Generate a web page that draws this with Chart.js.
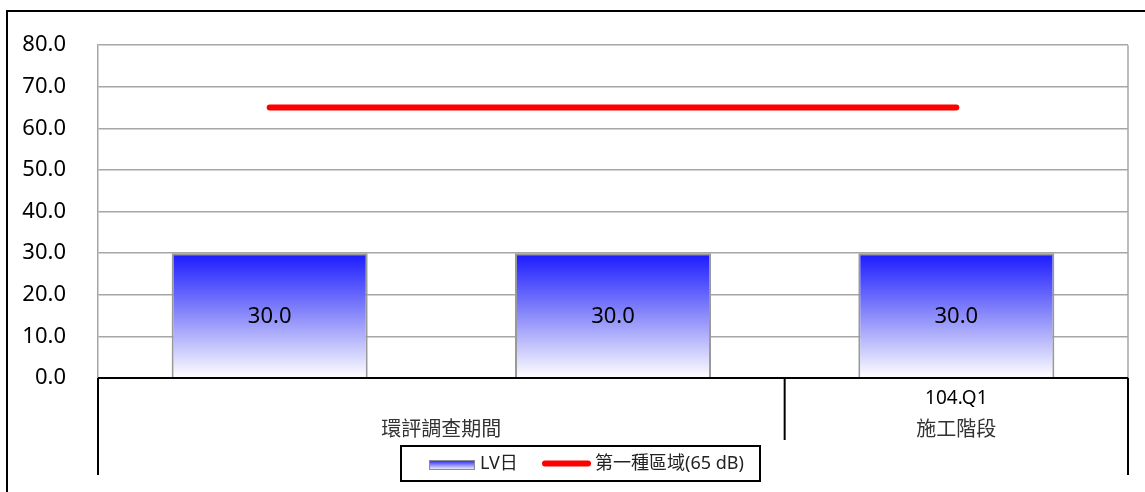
<!DOCTYPE html>
<html lang="zh-Hant">
<head>
<meta charset="UTF-8">
<title>LV日</title>
<script src="https://cdn.jsdelivr.net/npm/chart.js"></script>
<style>
    html, body { margin: 0; padding: 0; background: #fff; overflow: hidden; }
    canvas { display: block; }
</style>
</head>
<body>
<canvas id="noiseChart" width="1145" height="492"></canvas>
<script>
    // data
    const categories = ['', '', '104.Q1'];
    const groupLabels = ['環評調查期間', '施工階段'];
    const groupStart = [0, 2];
    const groupEnd = [1, 2];
    const lvDay = [30.0, 30.0, 30.0];
    const limitZone1 = [65, 65, 65];
    const seriesNames = ['LV日', '第一種區域(65 dB)'];
    const yMin = 0, yMax = 80, yStep = 10;

    const FONT = '"Noto Sans", "Noto Sans CJK TC", sans-serif';

    function blueGradient(ctx, top, bottom) {
        const g = ctx.createLinearGradient(0, top, 0, bottom);
        g.addColorStop(0, '#1a1aff');
        g.addColorStop(0.5, '#8c8cfa');
        g.addColorStop(1, '#ffffff');
        return g;
    }

    // outer frame, plot frame, category table under the axis, labels, legend
    const decorations = {
        id: 'decorations',
        beforeDraw(chart) {
            const c = chart.ctx;
            c.save();
            c.fillStyle = '#fff';
            c.fillRect(0, 0, chart.width, chart.height);
            c.restore();
        },
        beforeDatasetsDraw(chart) {
            const c = chart.ctx, a = chart.chartArea;
            c.save();
            c.strokeStyle = '#a6a6a6';
            c.lineWidth = 1.5;
            c.beginPath();
            c.moveTo(a.right, a.top);
            c.lineTo(a.right, a.bottom);
            c.stroke();
            c.restore();
        },
        afterDatasetsDraw(chart) {
            const c = chart.ctx;
            const meta = chart.getDatasetMeta(1);
            c.save();
            c.font = '22px ' + FONT;
            c.fillStyle = '#000';
            c.textAlign = 'center';
            c.textBaseline = 'middle';
            meta.data.forEach((bar, i) => {
                c.fillText(lvDay[i].toFixed(1), bar.x, (bar.y + bar.base) / 2 + 2);
            });
            c.restore();
        },
        afterDraw(chart) {
            const c = chart.ctx, a = chart.chartArea, x = chart.scales.x;
            const n = categories.length;
            const edge = i => {
                if (i <= 0) return a.left;
                if (i >= n) return a.right;
                return (x.getPixelForValue(i - 1) + x.getPixelForValue(i)) / 2;
            };
            c.save();
            // keep the strip right of the plot clean
            c.fillStyle = '#fff';
            c.fillRect(a.right + 2, 0, 40, chart.height);

            c.strokeStyle = '#000';
            c.lineWidth = 2;
            c.beginPath();
            c.moveTo(7, 492);
            c.lineTo(7, 11);
            c.lineTo(1145, 11);
            c.moveTo(a.left, a.bottom);
            c.lineTo(a.right, a.bottom);
            c.moveTo(a.left, a.bottom);
            c.lineTo(a.left, 475);
            c.moveTo(a.right, a.bottom);
            c.lineTo(a.right, 475);
            for (let g = 0; g < groupEnd.length - 1; g++) {
                const px = edge(groupEnd[g] + 1);
                c.moveTo(px, a.bottom);
                c.lineTo(px, 440);
            }
            c.stroke();

            c.font = '20px ' + FONT;
            c.fillStyle = '#333';
            c.textAlign = 'center';
            c.textBaseline = 'middle';
            groupLabels.forEach((lab, g) => {
                const cx = (edge(groupStart[g]) + edge(groupEnd[g] + 1)) / 2;
                c.fillText(lab, cx, 430);
            });

            // legend
            const lx = 401, ly = 446, lw = 359, lh = 35;
            c.lineWidth = 2;
            c.strokeStyle = '#000';
            c.strokeRect(lx, ly, lw, lh);
            const my = ly + lh / 2;
            c.fillStyle = blueGradient(c, 460, 470);
            c.fillRect(429, 460, 46, 10);
            c.strokeStyle = '#8c8c8c';
            c.lineWidth = 1;
            c.strokeRect(429.5, 460.5, 45, 9);
            c.strokeStyle = '#ff0000';
            c.lineWidth = 6;
            c.lineCap = 'round';
            c.beginPath();
            c.moveTo(545, my);
            c.lineTo(588, my);
            c.stroke();
            c.fillStyle = '#222';
            c.font = '18px ' + FONT;
            c.textAlign = 'left';
            c.fillText(seriesNames[0], 480, my);
            c.fillText(seriesNames[1], 595, my);
            c.restore();
        }
    };

    new Chart(document.getElementById('noiseChart'), {
        data: {
            labels: categories,
            datasets: [
                {
                    type: 'line',
                    label: seriesNames[1],
                    data: limitZone1,
                    borderColor: '#ff0000',
                    borderWidth: 6,
                    borderCapStyle: 'round',
                    pointRadius: 0,
                    order: 0
                },
                {
                    type: 'bar',
                    label: seriesNames[0],
                    data: lvDay,
                    backgroundColor(ctx) {
                        const chart = ctx.chart;
                        if (!chart.chartArea) return '#8c8cff';
                        const y = chart.scales.y;
                        return blueGradient(chart.ctx, y.getPixelForValue(ctx.raw), y.getPixelForValue(0));
                    },
                    borderColor: '#999',
                    borderWidth: 2,
                    borderSkipped: 'bottom',
                    barPercentage: 0.571,
                    categoryPercentage: 1,
                    order: 1
                }
            ]
        },
        options: {
            responsive: false,
            animation: false,
            devicePixelRatio: 1,
            layout: { padding: { top: 44, right: 17, left: 0, bottom: 0 } },
            plugins: {
                legend: { display: false },
                tooltip: { enabled: false }
            },
            scales: {
                x: {
                    grid: { display: false },
                    border: { display: false },
                    ticks: {
                        font: { family: FONT, size: 19 },
                        color: '#000',
                        padding: 1,
                        maxRotation: 0,
                        autoSkip: false
                    },
                    afterFit(scale) { scale.height = 114; }
                },
                y: {
                    min: yMin,
                    max: yMax,
                    grid: { color: '#a6a6a6', lineWidth: 1.5, drawTicks: false },
                    border: { display: true, color: '#a6a6a6', width: 1.5 },
                    ticks: {
                        stepSize: yStep,
                        font: { family: FONT, size: 22 },
                        color: '#000',
                        padding: 32,
                        callback: v => v.toFixed(1)
                    },
                    afterFit(scale) { scale.width = 98; }
                }
            }
        },
        plugins: [decorations]
    });
</script>
</body>
</html>
